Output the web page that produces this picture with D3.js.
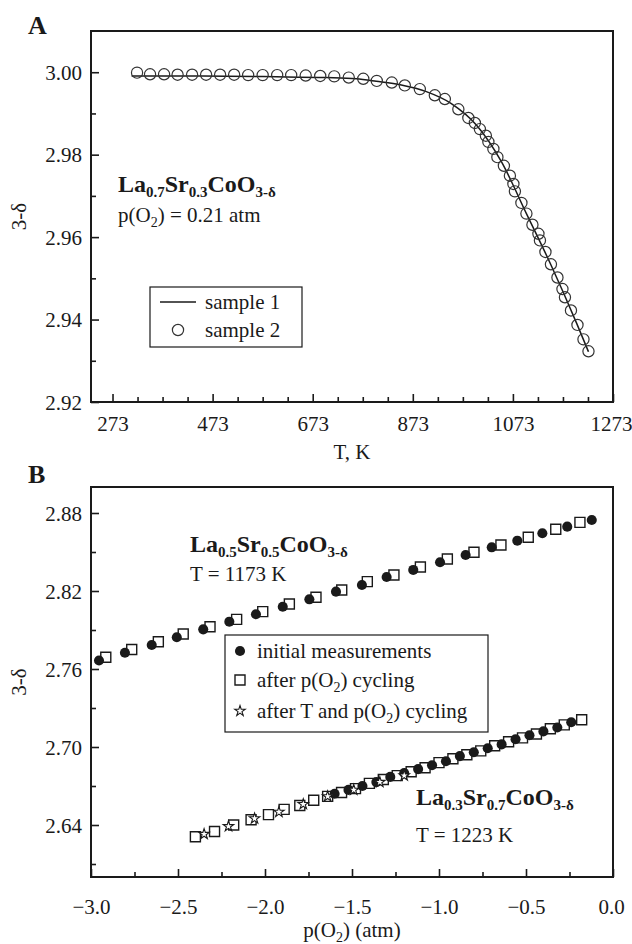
<!DOCTYPE html>
<html><head><meta charset="utf-8">
<script src="https://cdn.jsdelivr.net/npm/d3@7"></script>
<style>
body{margin:0;background:#fff}
text{font-family:"Liberation Serif","Times New Roman",serif;fill:#1a1a1a}
</style>
</head><body><svg id="c" width="632" height="944"></svg>
<script>
// ---------- Panel A data ----------
const tempS1 = [311, 400, 500, 600, 700, 760, 800, 850, 900, 950, 1000, 1050, 1100, 1150, 1200, 1224];
const valS1  = [2.9991, 2.9991, 2.9990, 2.9989, 2.9987, 2.9984, 2.9978, 2.9969, 2.9953, 2.9924, 2.9872, 2.9783, 2.9657, 2.9530, 2.9392, 2.9322];
const tempS2 = [322, 348, 376, 403, 432, 460, 488, 516, 544, 573, 602, 630, 659, 688, 716, 745, 774, 801,
                831, 857, 887, 917, 937, 964, 984, 997, 1007, 1019, 1024, 1034, 1042, 1055, 1067, 1074, 1077,
                1090, 1100, 1112, 1124, 1127, 1138, 1149, 1162, 1172, 1177, 1189, 1202, 1214, 1224];
const valS2  = [2.9999, 2.9995, 2.9995, 2.9994, 2.9994, 2.9994, 2.9994, 2.9994, 2.9993, 2.9993, 2.9993, 2.9993, 2.9992, 2.9991, 2.9990, 2.9987, 2.9984, 2.9979,
                2.9975, 2.9968, 2.9959, 2.9944, 2.9935, 2.9910, 2.9889, 2.9877, 2.9862, 2.9846, 2.9831, 2.9814, 2.9794, 2.9773, 2.9749, 2.9729, 2.9711,
                2.9683, 2.9657, 2.9630, 2.9608, 2.9592, 2.9564, 2.9534, 2.9502, 2.9474, 2.9454, 2.9422, 2.9387, 2.9352, 2.9323];
const tMajorA = [273, 473, 673, 873, 1073, 1273];
const tMinorA = [323, 373, 423, 523, 573, 623, 723, 773, 823, 923, 973, 1023, 1123, 1173, 1223];
const yMajorA = [2.92, 2.94, 2.96, 2.98, 3.00];
const yMinorA = [2.93, 2.95, 2.97, 2.99];

// ---------- Panel B data ----------
const pHiInit = [-2.954, -2.805, -2.651, -2.507, -2.355, -2.205, -2.052, -1.898, -1.745, -1.592, -1.443, -1.301, -1.148, -0.994, -0.847, -0.697, -0.550, -0.406, -0.263, -0.122];
const vHiInit = [2.7665, 2.7725, 2.7785, 2.7844, 2.7905, 2.7964, 2.8021, 2.8079, 2.8136, 2.8195, 2.8246, 2.8308, 2.8362, 2.8421, 2.8477, 2.8536, 2.8587, 2.8644, 2.8695, 2.8746];
const pHiCyc  = [-2.915, -2.766, -2.613, -2.470, -2.316, -2.163, -2.013, -1.860, -1.707, -1.559, -1.412, -1.259, -1.107, -0.952, -0.799, -0.644, -0.487, -0.329, -0.190];
const vHiCyc  = [2.769, 2.775, 2.7810, 2.7869, 2.7925, 2.7982, 2.8041, 2.8100, 2.8152, 2.8208, 2.8272, 2.8323, 2.8385, 2.8446, 2.8498, 2.8554, 2.8613, 2.8675, 2.8728];
const pLoInit = [-1.60, -1.52, -1.44, -1.36, -1.28, -1.20, -1.12, -1.04, -0.96, -0.88, -0.80, -0.72, -0.64, -0.56, -0.48, -0.40, -0.32, -0.24];
const vLoInit = [2.664, 2.667, 2.670, 2.673, 2.677, 2.680, 2.683, 2.686, 2.689, 2.693, 2.696, 2.699, 2.702, 2.706, 2.709, 2.712, 2.715, 2.719];
const pLoCyc  = [-2.40, -2.29, -2.18, -2.08, -1.98, -1.89, -1.80, -1.72, -1.64, -1.56, -1.48, -1.40, -1.32, -1.24, -1.16, -1.08, -1.00, -0.92, -0.84, -0.76, -0.68, -0.60, -0.52, -0.44, -0.36, -0.28, -0.18];
const vLoCyc  = [2.631, 2.635, 2.640, 2.644, 2.648, 2.652, 2.655, 2.659, 2.662, 2.665, 2.668, 2.672, 2.675, 2.678, 2.681, 2.684, 2.688, 2.691, 2.694, 2.697, 2.701, 2.704, 2.707, 2.710, 2.714, 2.717, 2.721];
const pLoTP   = [-2.35, -2.21, -2.06, -1.92, -1.78, -1.64, -1.49, -1.34, -1.20];
const vLoTP   = [2.633, 2.639, 2.645, 2.650, 2.656, 2.662, 2.667, 2.673, 2.678];
const xMajorB = [-3.0, -2.5, -2.0, -1.5, -1.0, -0.5, 0.0];
const xMinorB = [-2.75, -2.25, -1.75, -1.25, -0.75, -0.25];
const yMajorB = [2.64, 2.70, 2.76, 2.82, 2.88];
const yMinorB = [2.61, 2.67, 2.73, 2.79, 2.85];
const legendB = ["initial measurements", "after p(O₂) cycling", "after T and p(O₂) cycling"];

const svg = d3.select("#c");
const INK = "#1a1a1a";
const L = 91, R = 613;

function frame(g, x, y, top, bot, xMaj, xMin, yMaj, yMin, xFmt, yFmt, xLabY) {
  g.append("g").attr("transform", `translate(0,${bot})`)
    .call(d3.axisBottom(x).tickValues(xMin).tickSize(-5).tickFormat(""));
  g.append("g").attr("transform", `translate(${L},0)`)
    .call(d3.axisLeft(y).tickValues(yMin).tickSize(-5).tickFormat(""));
  const xa = g.append("g").attr("transform", `translate(0,${bot})`)
    .call(d3.axisBottom(x).tickValues(xMaj).tickSize(-8).tickFormat(xFmt));
  xa.selectAll("text").attr("y", xLabY).attr("dy", 0).style("font-size", "21px");
  // keep the right-most label inside the page
  xa.selectAll(".tick:last-of-type text").attr("x", -2);
  const ya = g.append("g").attr("transform", `translate(${L},0)`)
    .call(d3.axisLeft(y).tickValues(yMaj).tickSize(-8).tickFormat(yFmt));
  ya.selectAll("text").attr("x", -9).attr("dy", "0.34em").style("font-size", "21px");
  g.selectAll(".domain").remove();
  g.selectAll(".tick line").attr("stroke", INK).attr("stroke-width", 1.6);
  g.append("rect").attr("x", L).attr("y", top).attr("width", R - L).attr("height", bot - top)
    .attr("fill", "none").attr("stroke", INK).attr("stroke-width", 2);
}

// ================= Panel A =================
const topA = 31, botA = 402;
const xA = d3.scaleLinear().domain([230, 1273]).range([L, R]);
const yA = d3.scaleLinear().domain([2.92, 3.01]).range([botA, topA]);
const gA = svg.append("g");
frame(gA, xA, yA, topA, botA, tMajorA, tMinorA, yMajorA, yMinorA, d3.format("d"), d3.format(".2f"), 29);

const s1 = d3.range(tempS1.length).map(i => [tempS1[i], valS1[i]]);
gA.append("path").datum(s1)
  .attr("d", d3.line().x(d => xA(d[0])).y(d => yA(d[1])).curve(d3.curveMonotoneX))
  .attr("fill", "none").attr("stroke", INK).attr("stroke-width", 1.5);
gA.selectAll("circle.s2").data(d3.range(tempS2.length)).join("circle")
  .attr("cx", i => xA(tempS2[i])).attr("cy", i => yA(valS2[i])).attr("r", 5.6)
  .attr("fill", "none").attr("stroke", "#333").attr("stroke-width", 1.2);

svg.append("text").attr("x", 28).attr("y", 34).style("font-size", "26px").style("font-weight", "bold").text("A");
svg.append("text").attr("transform", `translate(26,${(topA + botA) / 2}) rotate(-90)`)
  .attr("text-anchor", "middle").style("font-size", "21px").text("3-δ");
svg.append("text").attr("x", (L + R) / 2).attr("y", 459).attr("text-anchor", "middle").style("font-size", "21px").text("T, K");

function formula(x, y, parts) {
  const t = svg.append("text").attr("x", x).attr("y", y).style("font-weight", "bold").style("font-size", "24px");
  let sub = false;
  parts.forEach((p, k) => {
    const isSub = k % 2 === 1;
    const ts = t.append("tspan").text(p).style("font-size", isSub ? "15px" : "24px");
    if (isSub !== sub) ts.attr("dy", isSub ? 5 : -5);
    sub = isSub;
  });
}
formula(118, 192, ["La", "0.7", "Sr", "0.3", "CoO", "3-δ"]);
const pA = svg.append("text").attr("x", 118).attr("y", 222).style("font-size", "21px");
pA.append("tspan").text("p(O");
pA.append("tspan").text("2").attr("dy", 5).style("font-size", "14px");
pA.append("tspan").text(") = 0.21 atm").attr("dy", -5);

// legend A
svg.append("rect").attr("x", 150).attr("y", 287).attr("width", 152).attr("height", 60)
  .attr("fill", "#fff").attr("stroke", INK).attr("stroke-width", 1.2);
svg.append("line").attr("x1", 160).attr("x2", 196).attr("y1", 302).attr("y2", 302).attr("stroke", INK).attr("stroke-width", 1.5);
svg.append("circle").attr("cx", 178).attr("cy", 330).attr("r", 5.6).attr("fill", "none").attr("stroke", "#333").attr("stroke-width", 1.2);
svg.append("text").attr("x", 205).attr("y", 309).style("font-size", "21px").text("sample 1");
svg.append("text").attr("x", 205).attr("y", 337).style("font-size", "21px").text("sample 2");

// ================= Panel B =================
const topB = 487, botB = 877;
const xB = d3.scaleLinear().domain([-3, 0]).range([L, R]);
const yB = d3.scaleLinear().domain([2.60, 2.90]).range([botB, topB]);
const gB = svg.append("g");
frame(gB, xB, yB, topB, botB, xMajorB, xMinorB, yMajorB, yMinorB, d3.format(".1f"), d3.format(".2f"), 37);

const symCircle = d3.symbol(d3.symbolCircle, 80)();
const symSquare = d3.symbol(d3.symbolSquare, 100)();
const symStar = d3.symbol(d3.symbolStar, 34)();

function plotSym(px, vy, path, fill, stroke, sw) {
  gB.append("g").selectAll("path").data(d3.range(px.length)).join("path")
    .attr("transform", i => `translate(${xB(px[i])},${yB(vy[i])})`)
    .attr("d", path).attr("fill", fill).attr("stroke", stroke).attr("stroke-width", sw);
}
plotSym(pHiCyc, vHiCyc, symSquare, "#fff", INK, 1.4);
plotSym(pHiInit, vHiInit, symCircle, INK, "none", 0);
plotSym(pLoCyc, vLoCyc, symSquare, "#fff", INK, 1.4);
plotSym(pLoInit, vLoInit, symCircle, INK, "none", 0);
plotSym(pLoTP, vLoTP, symStar, "#fff", INK, 1.1);

svg.append("text").attr("x", 28).attr("y", 483).style("font-size", "26px").style("font-weight", "bold").text("B");
svg.append("text").attr("transform", `translate(26,${(topB + botB) / 2}) rotate(-90)`)
  .attr("text-anchor", "middle").style("font-size", "21px").text("3-δ");
const xtB = svg.append("text").attr("x", (L + R) / 2).attr("y", 937).attr("text-anchor", "middle").style("font-size", "21px");
xtB.append("tspan").text("p(O");
xtB.append("tspan").text("2").attr("dy", 5).style("font-size", "14px");
xtB.append("tspan").text(") (atm)").attr("dy", -5);

formula(190, 552, ["La", "0.5", "Sr", "0.5", "CoO", "3-δ"]);
svg.append("text").attr("x", 190).attr("y", 581).style("font-size", "21px").text("T = 1173 K");
formula(416, 805, ["La", "0.3", "Sr", "0.7", "CoO", "3-δ"]);
svg.append("text").attr("x", 416).attr("y", 842).style("font-size", "21px").text("T = 1223 K");

// legend B
svg.append("rect").attr("x", 225).attr("y", 635).attr("width", 263).attr("height", 97)
  .attr("fill", "#fff").attr("stroke", INK).attr("stroke-width", 1.2);
const legSyms = [[symCircle, INK, "none", 0], [symSquare, "#fff", INK, 1.4], [symStar, "#fff", INK, 1.1]];
const legY = [651, 680, 711];
legendB.forEach((lab, i) => {
  svg.append("path").attr("transform", `translate(240,${legY[i]})`).attr("d", legSyms[i][0])
    .attr("fill", legSyms[i][1]).attr("stroke", legSyms[i][2]).attr("stroke-width", legSyms[i][3]);
  const t = svg.append("text").attr("x", 257).attr("y", legY[i] + 7).style("font-size", "21px");
  const parts = lab.split("O₂");
  if (parts.length === 1) t.text(lab);
  else {
    t.append("tspan").text(parts[0] + "O");
    t.append("tspan").text("2").attr("dy", 5).style("font-size", "14px");
    t.append("tspan").text(parts[1]).attr("dy", -5);
  }
});
</script>
</body></html>
